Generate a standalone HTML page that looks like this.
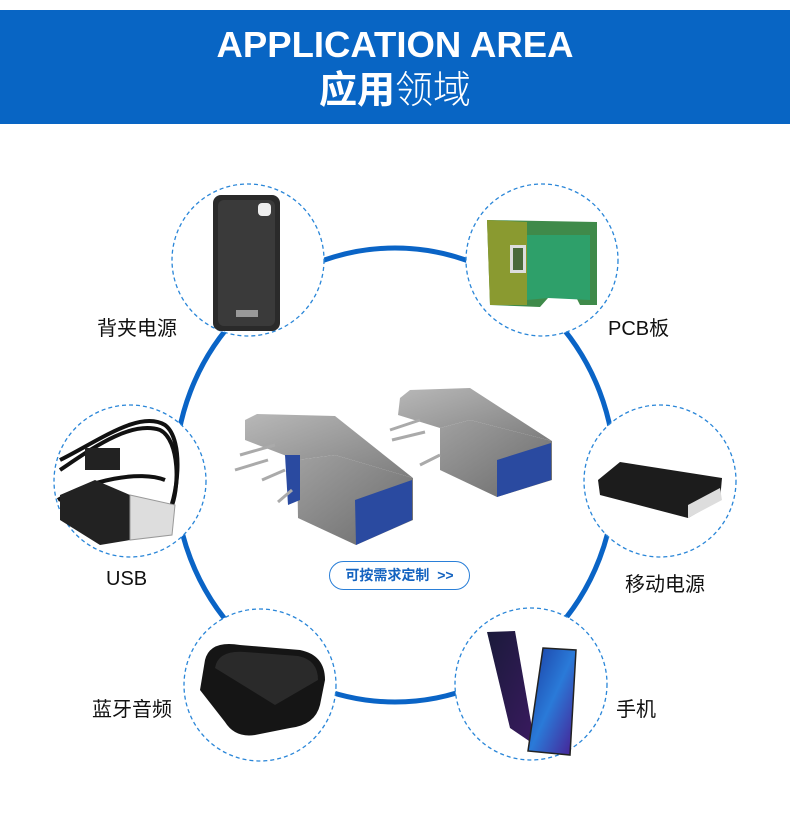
<!DOCTYPE html>
<html><head><meta charset="utf-8"><style>
html,body{margin:0;padding:0;background:#fff;}
body{width:790px;height:814px;position:relative;overflow:hidden;font-family:"Liberation Sans","Noto Sans CJK SC",sans-serif;}
.hdr{position:absolute;left:0;top:10px;width:790px;height:114px;background:#0865c4;}
.t1{position:absolute;left:0;width:790px;top:24px;text-align:center;color:#fff;font-weight:bold;font-size:36.5px;line-height:42px;}
.t2{position:absolute;left:0;width:790px;top:59px;text-align:center;color:#fff;font-size:38px;}
.lbl{position:absolute;font-size:20px;color:#111;white-space:nowrap;}
.btn{position:absolute;left:329px;top:561px;width:139px;height:27px;border:1.5px solid #2a7fd8;border-radius:15px;color:#1463c0;font-weight:bold;font-size:14px;line-height:27px;text-align:center;}
</style></head><body>
<div class="hdr"></div>
<div class="t1">APPLICATION AREA</div>
<div class="t2"><b>应用</b><span style="font-weight:300">领域</span></div>
<svg width="790" height="814" style="position:absolute;left:0;top:0">
<defs>
<linearGradient id="m" x1="0" y1="0" x2="1" y2="1"><stop offset="0" stop-color="#b8b8b8"/><stop offset="1" stop-color="#7d7d7d"/></linearGradient>
<linearGradient id="f" x1="0" y1="0" x2="1" y2="1"><stop offset="0" stop-color="#a0a0a0"/><stop offset="1" stop-color="#6a6a6a"/></linearGradient>
<linearGradient id="p" x1="0" y1="0" x2="1" y2="1"><stop offset="0" stop-color="#1a1a3a"/><stop offset="1" stop-color="#3a1a60"/></linearGradient>
<linearGradient id="p2" x1="0" y1="0" x2="1" y2="1"><stop offset="0" stop-color="#1a3aa0"/><stop offset=".5" stop-color="#2a7ad8"/><stop offset="1" stop-color="#4a1a90"/></linearGradient>
</defs>
<ellipse cx="395" cy="475" rx="220" ry="227" fill="none" stroke="#0a64c6" stroke-width="5"/>
<g fill="#fff" stroke="#2a86d8" stroke-width="1.3" stroke-dasharray="4,3">
<ellipse cx="248" cy="260" rx="76" ry="76"/>
<ellipse cx="542" cy="260" rx="76" ry="76"/>
<ellipse cx="130" cy="481" rx="76" ry="76"/>
<ellipse cx="660" cy="481" rx="76" ry="76"/>
<ellipse cx="260" cy="685" rx="76" ry="76"/>
<ellipse cx="531" cy="684" rx="76" ry="76"/>
</g>
<rect x="213" y="195" width="67" height="136" rx="8" fill="#2a2a2a"/>
<rect x="218" y="200" width="57" height="126" rx="6" fill="#3a3a3a"/>
<rect x="258" y="203" width="13" height="13" rx="4" fill="#eee"/>
<rect x="236" y="310" width="22" height="7" fill="#999"/>
<path d="M487 220 L597 222 L597 305 L580 305 L575 295 L548 298 L540 307 L490 305 Z" fill="#3f8a4a"/>
<path d="M527 235 L590 235 L590 300 L548 298 L527 300Z" fill="#2ea06a"/>
<path d="M487 220 L527 222 L527 305 L490 305Z" fill="#8a9a30"/>
<rect x="510" y="245" width="16" height="28" fill="#ddd"/><rect x="513" y="248" width="10" height="22" fill="#4a6a3a"/>
<g fill="none" stroke="#111" stroke-width="4">
<path d="M60 470 C90 450 130 420 160 430 C180 440 180 490 170 510"/>
<path d="M60 460 C100 440 140 410 165 425 C185 440 178 500 165 520"/>
<path d="M58 500 C90 480 140 470 165 480"/>
</g>
<path d="M60 495 L95 480 L130 495 L130 540 L100 545 L60 520Z" fill="#222"/>
<rect x="85" y="448" width="35" height="22" fill="#222"/>
<path d="M130 495 L175 505 L172 535 L130 540Z" fill="#ddd" stroke="#999"/>
<path d="M598 480 L620 462 L722 478 L720 500 L688 518 L600 495Z" fill="#1c1c1c"/>
<path d="M688 505 L720 488 L722 500 L688 518Z" fill="#ddd"/>
<path d="M205 660 Q210 640 240 645 L300 650 Q325 655 325 680 L320 705 Q315 725 290 728 L255 735 Q235 738 225 722 L200 690Z" fill="#151515"/>
<path d="M215 668 Q218 650 245 652 L298 656 Q318 660 318 680 L275 705 Z" fill="#2a2a2a"/>
<path d="M487 632 L515 631 L535 745 L510 728Z" fill="url(#p)"/>
<path d="M543 648 L576 650 L570 755 L528 751Z" fill="url(#p2)" stroke="#222" stroke-width="1.5"/>
<g>
<path d="M245 420 L257 414 L335 416 L413 478 L335 455 L297 460 L245 440Z" fill="url(#m)"/>
<path d="M297 460 L335 455 L413 478 L413 520 L356 545 L298 518Z" fill="url(#f)"/>
<path d="M355 500 L412 480 L412 520 L356 545Z" fill="#2a4aa0"/>
<path d="M285 455 L300 455 L300 500 L288 505Z" fill="#2a4aa0"/>
<g stroke="#aaa" stroke-width="3"><line x1="240" y1="455" x2="275" y2="445"/><line x1="235" y1="470" x2="268" y2="460"/><line x1="262" y1="480" x2="285" y2="470"/><line x1="278" y1="502" x2="292" y2="490"/></g>
</g>
<g>
<path d="M400 398 L410 390 L470 388 L552 441 L470 420 L440 428 L398 415Z" fill="url(#m)"/>
<path d="M440 428 L470 420 L552 441 L552 480 L497 497 L440 470Z" fill="url(#f)"/>
<path d="M497 460 L551 443 L551 480 L497 497Z" fill="#2a4aa0"/>
<g stroke="#aaa" stroke-width="3"><line x1="390" y1="430" x2="420" y2="420"/><line x1="392" y1="440" x2="425" y2="432"/><line x1="420" y1="465" x2="440" y2="455"/></g>
</g>
</svg>
<div class="lbl" style="left:97px;top:312px">背夹电源</div>
<div class="lbl" style="left:608px;top:312px">PCB板</div>
<div class="lbl" style="left:106px;top:568px">USB</div>
<div class="lbl" style="left:625px;top:568px">移动电源</div>
<div class="lbl" style="left:92px;top:693px">蓝牙音频</div>
<div class="lbl" style="left:616px;top:693px">手机</div>
<div class="btn">可按需求定制 &nbsp;&gt;&gt;</div>
</body></html>
